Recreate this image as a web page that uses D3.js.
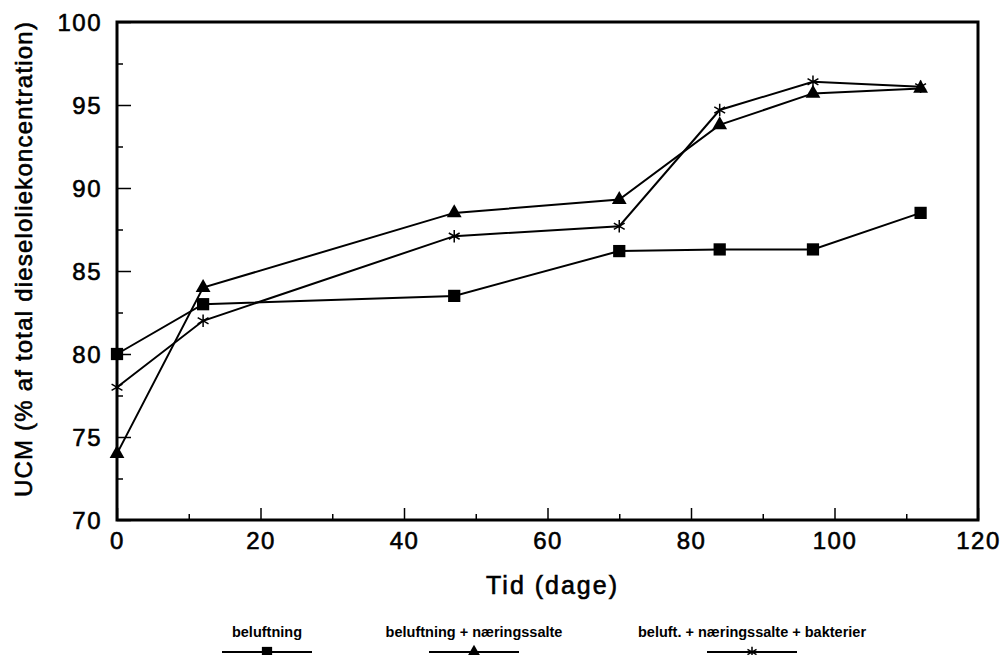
<!DOCTYPE html>
<html>
<head>
<meta charset="utf-8">
<script src="https://cdn.jsdelivr.net/npm/d3@7"></script>
<style>
  body { margin: 0; background: #fff; }
  text { font-family: "Liberation Sans", Arial, sans-serif; fill: #000; }
  .epais { stroke: #000; stroke-width: 0.6px; }
</style>
</head>
<body>
<div id="graph"></div>
<script>
// données
var dage = [0, 12, 47, 70, 84, 97, 112];
var beluftning = [80.0, 83.0, 83.5, 86.2, 86.3, 86.3, 88.5];
var naeringssalte = [74.0, 84.0, 88.5, 89.3, 93.8, 95.7, 96.0];
var bakterier = [78.0, 82.0, 87.1, 87.7, 94.7, 96.4, 96.1];
var xTicks = [0, 20, 40, 60, 80, 100, 120];
var yTicks = [70, 75, 80, 85, 90, 95, 100];
var serieNoms = ["beluftning", "beluftning + næringssalte", "beluft. + næringssalte + bakterier"];

var totalWidth = 1004, totalHeight = 655,
    margin = {top: 22, right: 26, bottom: 135, left: 117},
    width = totalWidth - margin.left - margin.right,
    height = totalHeight - margin.top - margin.bottom;

var x = d3.scaleLinear().domain([0, 120]).range([0, width]),
    y = d3.scaleLinear().domain([70, 100]).range([height, 0]);

var svg = d3.select("#graph").append("svg")
    .attr("width", totalWidth)
    .attr("height", totalHeight)
    .append("g")
    .attr("transform", "translate(" + margin.left + "," + margin.top + ")");

// cadre
svg.append("rect")
    .attr("width", width)
    .attr("height", height)
    .attr("fill", "none")
    .attr("stroke", "#000")
    .attr("stroke-width", 3);

// graduations (vers l'intérieur) + mineures
var axeX = svg.append("g")
    .attr("transform", "translate(0," + height + ")")
    .call(d3.axisBottom(x).tickValues(xTicks).tickSize(-12).tickPadding(9));
svg.append("g")
    .attr("transform", "translate(0," + height + ")")
    .call(d3.axisBottom(x).tickValues(d3.range(10, 120, 20)).tickSize(-6).tickFormat(""));
var axeY = svg.append("g")
    .call(d3.axisLeft(y).tickValues(yTicks).tickSize(-14).tickPadding(15));
svg.append("g")
    .call(d3.axisLeft(y).tickValues(d3.range(72.5, 100, 5)).tickSize(-6).tickFormat(""));
svg.selectAll(".domain").remove();
svg.selectAll(".tick line").attr("stroke", "#000").attr("stroke-width", 1.5);
axeX.selectAll("text").attr("class", "epais").attr("font-size", 24).attr("letter-spacing", 1.5).attr("dy", "0.85em");
axeY.selectAll("text").attr("class", "epais").attr("font-size", 24).attr("letter-spacing", 1.5).attr("dy", "0.35em");

// titres des axes
svg.append("text")
    .attr("class", "epais")
    .attr("x", width / 2 + 5)
    .attr("y", height + 74)
    .attr("text-anchor", "middle")
    .attr("font-size", 25)
    .attr("letter-spacing", 2)
    .text("Tid (dage)");
svg.append("text")
    .attr("class", "epais")
    .attr("transform", "translate(-85," + (height / 2 - 12) + ") rotate(-90)")
    .attr("text-anchor", "middle")
    .attr("font-size", 24)
    .attr("letter-spacing", 1.2)
    .text("UCM (% af total dieseloliekoncentration)");

// séries
var series = [
    {nom: serieNoms[0], valeurs: beluftning, marque: "carre"},
    {nom: serieNoms[1], valeurs: naeringssalte, marque: "triangle"},
    {nom: serieNoms[2], valeurs: bakterier, marque: "etoile"}
];

var ligne = d3.line()
    .x(function(d) { return x(d[0]); })
    .y(function(d) { return y(d[1]); });

function marque(g, type, cx, cy, echelle) {
    var k = echelle || 1;
    if (type === "carre") {
        g.append("path")
            .attr("d", d3.symbol(d3.symbolSquare, 150 * k)())
            .attr("transform", "translate(" + cx + "," + cy + ")")
            .attr("fill", "#000");
    } else if (type === "triangle") {
        g.append("path")
            .attr("d", d3.symbol(d3.symbolTriangle, 95 * k)())
            .attr("transform", "translate(" + cx + "," + cy + ")")
            .attr("fill", "#000");
    } else {
        g.append("path")
            .attr("d", d3.symbol(d3.symbolAsterisk, 110 * k)())
            .attr("transform", "translate(" + cx + "," + cy + ")")
            .attr("fill", "none")
            .attr("stroke", "#000")
            .attr("stroke-width", 1.5);
    }
}

series.forEach(function(s) {
    var pts = dage.map(function(d, i) { return [d, s.valeurs[i]]; });
    svg.append("path")
        .datum(pts)
        .attr("fill", "none")
        .attr("stroke", "#000")
        .attr("stroke-width", 2)
        .attr("d", ligne);
    var g = svg.append("g");
    pts.forEach(function(p) { marque(g, s.marque, x(p[0]), y(p[1])); });
});

// légende
var legX = [267, 474, 752];
var leg = d3.select("svg").append("g");
series.forEach(function(s, i) {
    leg.append("text")
        .attr("x", legX[i])
        .attr("y", 637)
        .attr("text-anchor", "middle")
        .attr("font-size", 14.5)
        .attr("font-weight", "bold")
        .text(s.nom);
    leg.append("line")
        .attr("x1", legX[i] - 45)
        .attr("x2", legX[i] + 45)
        .attr("y1", 652)
        .attr("y2", 652)
        .attr("stroke", "#000")
        .attr("stroke-width", 2);
    marque(leg, s.marque, legX[i], 652, 0.7);
});
</script>
</body>
</html>
